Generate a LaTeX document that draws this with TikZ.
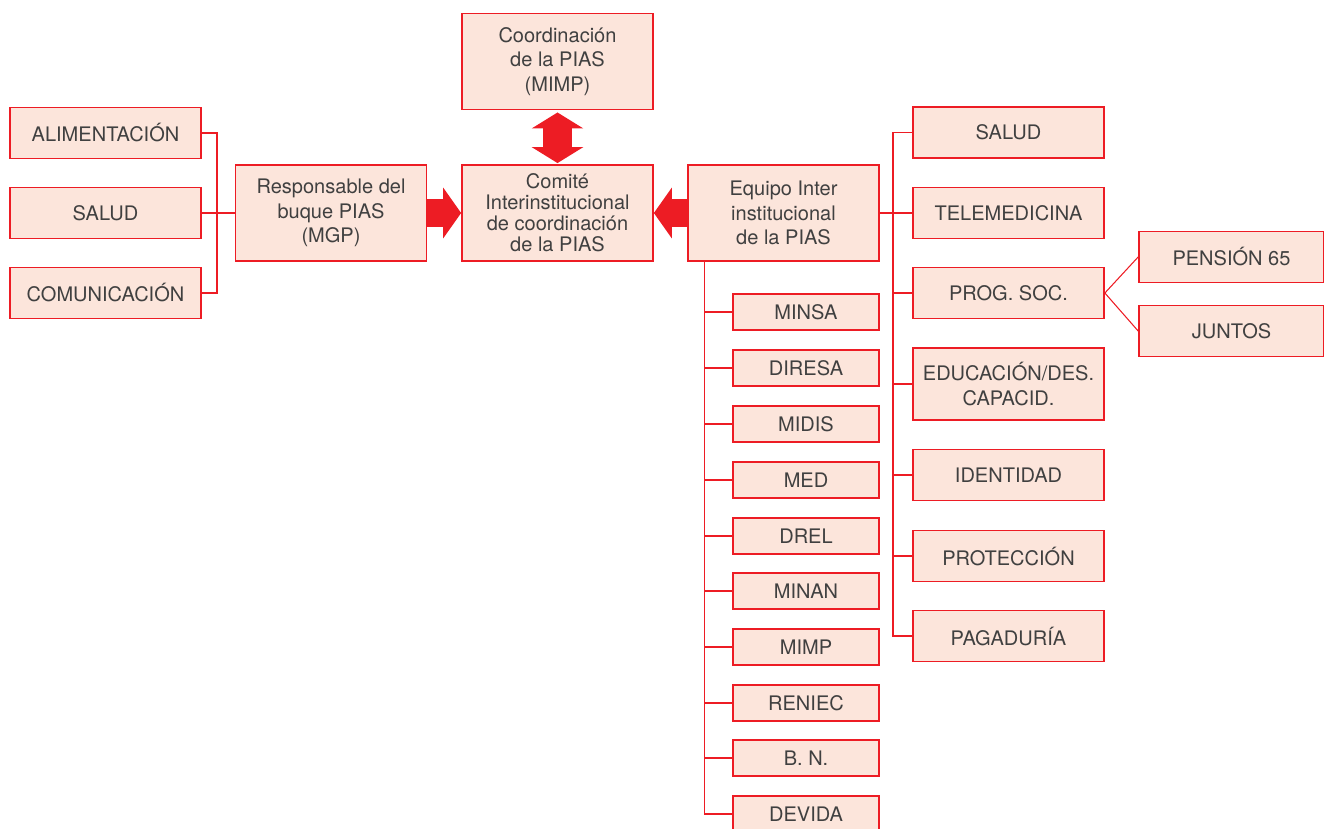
\documentclass[tikz,border=0pt]{standalone}
\usepackage{fontspec}
\setmainfont{TeX Gyre Heros}
\usepackage{xcolor}
\usepackage{tikz}
\usetikzlibrary{arrows.meta,positioning,calc}
\definecolor{boxred}{RGB}{237, 28, 36}
\definecolor{boxfill}{RGB}{252, 229, 219}
\definecolor{textgray}{RGB}{64, 64, 64}

\begin{document}
\begin{tikzpicture}[
    x=0.02cm, y=-0.02cm,
    box/.style={rectangle, draw=boxred, fill=boxfill, line width=1pt, align=center, text=textgray, inner sep=1pt, font=\fontsize{11.4}{14}\selectfont},
    bigbox/.style={box, minimum width=3.82cm, minimum height=1.92cm},
    unit/.style={box, minimum width=3.82cm, minimum height=1.02cm},
    subunit/.style={box, minimum width=3.7cm, minimum height=1.02cm},
    member/.style={box, minimum width=2.92cm, minimum height=0.72cm},
    link/.style={draw=boxred, line width=0.6pt},
    blockarrow/.style={draw=boxred, line width=0.58cm, -{Triangle[width=1cm, length=0.36cm]}}
]
\useasboundingbox (0,0) rectangle (1324,828);

% Centre: coordination and committee
\node[bigbox] (coord) at (557.5,61.5) {Coordinación\\de la PIAS\\(MIMP)};
\node[bigbox, font=\fontsize{11.4}{12}\selectfont] (comite) at (557.5,213) {Comité\\Interinstitucional\\de coordinación\\de la PIAS};
\node[bigbox] (resp) at (331,213) {Responsable del\\buque PIAS\\(MGP)};
\node[bigbox] (equipo) at (783.5,213) {Equipo Inter\\institucional\\de la PIAS};

% Left column
\node[unit] (alim) at (105.5,133) {ALIMENTACIÓN};
\node[unit] (lsalud) at (105.5,213) {SALUD};
\node[unit] (comun) at (105.5,293) {COMUNICACIÓN};

% Right column
\node[unit] (rsalud) at (1008.5,132.5) {SALUD};
\node[unit] (tele) at (1008.5,213) {TELEMEDICINA};
\node[unit] (prog) at (1008.5,293) {PROG. SOC.};
\node[unit, minimum height=1.44cm] (educ) at (1008.5,384) {EDUCACIÓN/DES.\\CAPACID.};
\node[unit] (ident) at (1008.5,475) {IDENTIDAD};
\node[unit] (prot) at (1008.5,556) {PROTECCIÓN};
\node[unit] (pagad) at (1008.5,636) {PAGADURÍA};

% Social programmes
\node[subunit] (pension) at (1231.5,257) {PENSIÓN 65};
\node[subunit] (juntos) at (1231.5,331) {JUNTOS};

% Members of the team
\node[member] (minsa) at (806,312) {MINSA};
\node[member] (diresa) at (806,368) {DIRESA};
\node[member] (midis) at (806,424) {MIDIS};
\node[member] (med) at (806,480) {MED};
\node[member] (drel) at (806,536) {DREL};
\node[member] (minan) at (806,591) {MINAN};
\node[member] (mimp) at (806,647) {MIMP};
\node[member] (reniec) at (806,703) {RENIEC};
\node[member] (bn) at (806,758) {B. N.};
\node[member] (devida) at (806,814) {DEVIDA};

% Block arrows
\draw[blockarrow, {Triangle[width=1.02cm, length=0.32cm]}-{Triangle[width=1.02cm, length=0.32cm]}, shorten <=1.2pt, shorten >=0.6pt] (coord.south) -- (comite.north);
\draw[blockarrow] (resp.east) -- (comite.west);
\draw[blockarrow] (equipo.west) -- (comite.east);

% Left bus
\coordinate (lbus) at (217,213);
\draw[link] (alim.east) -| (lbus);
\draw[link] (comun.east) -| (lbus);
\draw[link] (lsalud.east) -- (resp.west);

% Right bus
\coordinate (rbus) at (893,213);
\draw[link] (equipo.east) -- (tele.west);
\draw[link] (rsalud.west) -| (rbus);
\draw[link] (prog.west) -| (rbus);
\draw[link] (educ.west) -| (rbus);
\draw[link] (ident.west) -| (rbus);
\draw[link] (prot.west) -| (rbus);
\draw[link] (pagad.west) -| (rbus);

% Programmes
\draw[link] (prog.east) -- (pension.west);
\draw[link] (prog.east) -- (juntos.west);

% Bottom bus
\coordinate (bbus) at ($(equipo.south west)+(17,0)$);
\draw[link] (minsa.west) -| (bbus);
\draw[link] (diresa.west) -| (bbus);
\draw[link] (midis.west) -| (bbus);
\draw[link] (med.west) -| (bbus);
\draw[link] (drel.west) -| (bbus);
\draw[link] (minan.west) -| (bbus);
\draw[link] (mimp.west) -| (bbus);
\draw[link] (reniec.west) -| (bbus);
\draw[link] (bn.west) -| (bbus);
\draw[link] (devida.west) -| (bbus);

\end{tikzpicture}
\end{document}
